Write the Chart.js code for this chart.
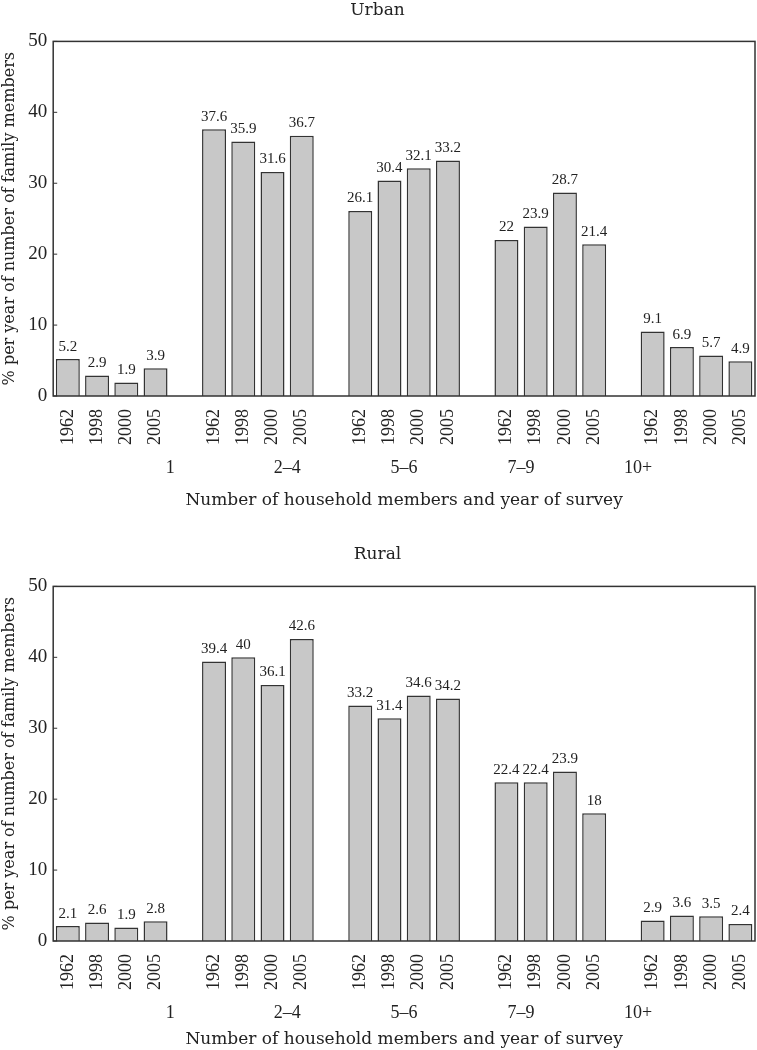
<!DOCTYPE html>
<html>
<head>
<meta charset="utf-8">
<script src="https://cdn.jsdelivr.net/npm/chart.js@4"></script>
<style>
  html, body { margin: 0; padding: 0; background: #fff; }
  canvas { display: block; }
</style>
</head>
<body>
<canvas id="chart-urban" width="757" height="544"></canvas>
<canvas id="chart-rural" width="757" height="506"></canvas>
<script>
// 카테고리
const groupLabels = ["1", "2–4", "5–6", "7–9", "10+"];
const yearLabels = ["1962", "1998", "2000", "2005"];

// 데이터 (그룹별, 연도 순서)
const urbanData = [
    [5.2, 2.9, 1.9, 3.9],
    [37.6, 35.9, 31.6, 36.7],
    [26.1, 30.4, 32.1, 33.2],
    [22, 23.9, 28.7, 21.4],
    [9.1, 6.9, 5.7, 4.9]
];
const ruralData = [
    [2.1, 2.6, 1.9, 2.8],
    [39.4, 40, 36.1, 42.6],
    [33.2, 31.4, 34.6, 34.2],
    [22.4, 22.4, 23.9, 18],
    [2.9, 3.6, 3.5, 2.4]
];

// 눈금
const yTicks = [0, 10, 20, 30, 40, 50];

// 글꼴: 숫자는 Liberation Serif, 글자는 폭이 넓은 DejaVu Serif
const numFont = "'Liberation Serif', serif";
const wordFont = "'DejaVu Serif', serif";

Chart.defaults.font.family = numFont;
Chart.defaults.color = '#222';

// 그룹 사이에 빈 칸 하나씩
const slotLabels = [];
const groupCenters = [];
groupLabels.forEach((g, gi) => {
    const start = slotLabels.length;
    yearLabels.forEach(y => slotLabels.push(y));
    groupCenters.push(start + (yearLabels.length - 1) / 2);
    if (gi < groupLabels.length - 1) slotLabels.push('');
});

function flatten(groups) {
    const out = [];
    groups.forEach((vals, gi) => {
        vals.forEach(v => out.push(v));
        if (gi < groups.length - 1) out.push(null);
    });
    return out;
}

// 테두리 + 안쪽 눈금
const framePlugin = {
    id: 'frame',
    afterDraw(chart) {
        const { ctx, chartArea: a, scales } = chart;
        ctx.save();
        ctx.strokeStyle = '#333';
        ctx.lineWidth = 1.5;
        ctx.strokeRect(a.left, a.top, a.right - a.left, a.bottom - a.top);
        ctx.lineWidth = 1;
        yTicks.forEach(v => {
            const y = scales.y.getPixelForValue(v);
            ctx.beginPath();
            ctx.moveTo(a.left, y);
            ctx.lineTo(a.left + 4, y);
            ctx.stroke();
        });
        ctx.restore();
    }
};

// 막대 위 값 표시
const valueLabelPlugin = {
    id: 'valueLabels',
    afterDatasetsDraw(chart) {
        const { ctx } = chart;
        const meta = chart.getDatasetMeta(0);
        const data = chart.data.datasets[0].data;
        ctx.save();
        ctx.font = "15px " + numFont;
        ctx.fillStyle = '#222';
        ctx.textAlign = 'center';
        ctx.textBaseline = 'bottom';
        meta.data.forEach((bar, i) => {
            if (data[i] === null) return;
            ctx.fillText(String(data[i]), bar.x, bar.y - 5);
        });
        ctx.restore();
    }
};

// 가로축 좌우 여백 없애기
function noSidePadding(axis) {
    axis.paddingLeft = 0;
    axis.paddingRight = 0;
}

function makeConfig(title, groups, pad) {
    return {
        type: 'bar',
        data: {
            labels: slotLabels,
            datasets: [{
                data: flatten(groups),
                backgroundColor: '#c8c8c8',
                borderColor: '#333',
                borderWidth: 1.5,
                barPercentage: 0.82,
                categoryPercentage: 1
            }]
        },
        plugins: [framePlugin, valueLabelPlugin],
        options: {
            responsive: false,
            animation: false,
            layout: {
                padding: { left: 0, right: 2, top: 0, bottom: pad.bottom }
            },
            scales: {
                x: {
                    type: 'category',
                    offset: true,
                    grid: { display: false },
                    border: { display: false },
                    afterFit: noSidePadding,
                    ticks: {
                        autoSkip: false,
                        minRotation: 90,
                        maxRotation: 90,
                        padding: 5,
                        font: { size: 18 }
                    }
                },
                x2: {
                    type: 'linear',
                    position: 'bottom',
                    min: -0.5,
                    max: slotLabels.length - 0.5,
                    grid: { display: false, drawTicks: false },
                    border: { display: false },
                    afterFit: noSidePadding,
                    afterBuildTicks: axis => {
                        axis.ticks = groupCenters.map(v => ({ value: v }));
                    },
                    ticks: {
                        autoSkip: false,
                        maxRotation: 0,
                        padding: 7,
                        font: { size: 18 },
                        callback: value => groupLabels[groupCenters.indexOf(value)]
                    },
                    title: {
                        display: true,
                        text: 'Number of household members and year of survey',
                        font: { size: 17, family: wordFont },
                        padding: { top: pad.axisTitleTop, bottom: 0 }
                    }
                },
                y: {
                    min: 0,
                    max: 50,
                    grid: { display: false, drawTicks: false },
                    border: { display: false },
                    afterBuildTicks: axis => {
                        axis.ticks = yTicks.map(v => ({ value: v }));
                    },
                    ticks: {
                        padding: 6,
                        font: { size: 19 }
                    },
                    title: {
                        display: true,
                        text: '% per year of number of family members',
                        font: { size: 16, family: wordFont },
                        padding: { top: 0, bottom: 3 }
                    }
                }
            },
            plugins: {
                legend: { display: false },
                tooltip: { enabled: false },
                title: {
                    display: true,
                    text: title,
                    font: { size: 17, weight: 'normal', family: wordFont },
                    color: '#222',
                    padding: { top: pad.titleTop, bottom: pad.titleBottom }
                }
            }
        }
    };
}

new Chart(document.getElementById('chart-urban'),
    makeConfig('Urban', urbanData, { titleTop: 0, titleBottom: 21, bottom: 33, axisTitleTop: 5 }));
new Chart(document.getElementById('chart-rural'),
    makeConfig('Rural', ruralData, { titleTop: 0, titleBottom: 22, bottom: 0, axisTitleTop: -1 }));
</script>
</body>
</html>
